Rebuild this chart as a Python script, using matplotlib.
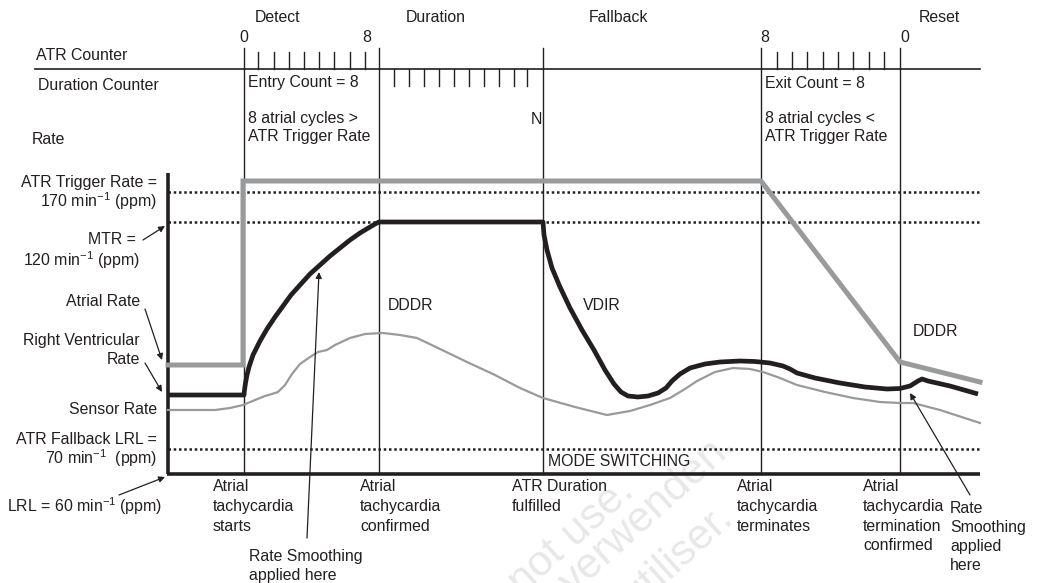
"""
ATR mode switching timing diagram (schematic).
Coordinates are in picture units: x = time across the strip, y = drawn rate
height (down is lower rate), so the figure can be laid out 1:1.
"""
import matplotlib
matplotlib.use("Agg")
import matplotlib.pyplot as plt

plt.rcParams["font.family"] = ["Liberation Sans", "DejaVu Sans"]
plt.rcParams["mathtext.fontset"] = "custom"
plt.rcParams["mathtext.rm"] = "Liberation Sans"
plt.rcParams["mathtext.it"] = "Liberation Sans"

# --- data ---------------------------------------------------------------------
phase_names = ["Detect", "Duration", "Fallback", "Reset"]
phase_name_x = [278, 436, 619, 939]
phase_edges = [244, 379, 543, 761, 900]
counter_marks = ["0", "8", "8", "0"]
counter_mark_x = [244, 367, 765, 905]

entry_ticks = [258, 274, 289, 304, 319, 334, 350, 365]
duration_ticks = [394, 409, 424, 439, 454, 469, 484, 499, 514, 527]
exit_ticks = [777, 792, 807, 823, 838, 853, 869, 884]

trigger_level = 192
mtr_level = 222
fallback_level = 449
baseline_level = 474

atrial_x = [168, 243, 243, 761, 900, 980]
atrial_y = [365, 365, 181, 181, 362, 382]

rv_x = [168, 244, 244.5, 245.5, 247, 249, 251, 253, 260, 267, 275, 283, 291,
        300, 310, 320, 330, 340, 350, 360, 370, 375, 379, 543, 544, 547, 552,
        560, 570, 582, 594, 605, 614, 621, 628, 638, 648, 658, 666, 672, 680,
        690, 705, 720, 740, 755, 770, 783, 790, 797, 815, 840, 865, 887, 900,
        910, 918, 922, 928, 950, 978]
rv_y = [395, 395, 390, 383, 375, 367, 361, 355, 341, 329, 317, 306, 295,
        285, 274, 265, 256, 248, 240, 233, 227, 224, 222, 222, 235, 250, 268,
        287, 308, 330, 350, 370, 384, 392, 396, 397, 396, 393, 388, 381, 374,
        368, 364, 362, 361, 361.5, 363, 366, 369, 373, 378, 383, 387, 389,
        388.5, 386, 381, 379, 381, 386, 394]

sensor_x = [168, 215, 230, 243, 255, 265, 272, 278, 285, 292, 300, 310, 318,
            327, 335, 350, 365, 383, 400, 417, 440, 467, 495, 520, 543, 575,
            607, 630, 650, 670, 685, 697, 715, 733, 750, 763, 780, 797, 825,
            853, 880, 900, 913, 940, 980]
sensor_y = [410, 410, 408, 405, 400, 396, 394, 392, 385, 374, 364, 357, 352,
            350, 345, 338, 334, 333, 335, 338, 349, 362, 375, 388, 398, 407,
            415, 411, 405, 398, 389, 381, 372, 368, 369, 372, 378, 385, 392,
            398, 402, 403, 403, 410, 423]

event_labels = ["Atrial\ntachycardia\nstarts",
                "Atrial\ntachycardia\nconfirmed",
                "ATR Duration\nfulfilled",
                "Atrial\ntachycardia\nterminates",
                "Atrial\ntachycardia\ntermination\nconfirmed"]
event_label_x = [213, 360, 512, 737, 863]

GRAY = "#999a9c"
INK = "#231f20"
FS = 11.4

fig = plt.figure(figsize=(10.37, 5.83), dpi=100)
ax = fig.add_axes([0, 0, 1, 1])
ax.set_xlim(0, 1037)
ax.set_ylim(583, 0)
ax.axis("off")

# watermark
for txt, (wx, wy) in zip(["not use.", "verwenden.", "utiliser."],
                         [(636, 494), (738, 447), (735, 520)]):
    ax.text(wx, wy, txt, fontsize=31, color="#e8e8e8", rotation=42,
            rotation_mode="anchor", ha="right", va="baseline", zorder=0)

# --- counter strip ------------------------------------------------------------
ax.plot([35, 980], [69, 69], color=INK, lw=1.2)
for x in phase_edges:
    ax.plot([x, x], [48, baseline_level], color=INK, lw=1.0)
for x in entry_ticks + exit_ticks:
    ax.plot([x, x], [52, 69], color=INK, lw=1.0)
for x in duration_ticks:
    ax.plot([x, x], [69, 86], color=INK, lw=1.0)

for name, x in zip(phase_names, phase_name_x):
    ax.text(x, 17, name, ha="center", va="center", fontsize=FS, color=INK)
for m, x in zip(counter_marks, counter_mark_x):
    ax.text(x, 37, m, ha="center", va="center", fontsize=FS, color=INK)

ax.text(36, 56, "ATR Counter", va="center", fontsize=FS, color=INK)
ax.text(38, 85, "Duration Counter", va="center", fontsize=FS, color=INK)
ax.text(32, 139, "Rate", va="center", fontsize=FS, color=INK)

ax.text(248, 83, "Entry Count = 8", va="center", fontsize=FS, color=INK)
ax.text(248, 118, "8 atrial cycles >", va="center", fontsize=FS, color=INK)
ax.text(248, 137, "ATR Trigger Rate", va="center", fontsize=FS, color=INK)
ax.text(531, 120, "N", va="center", fontsize=FS, color=INK)
ax.text(765, 83, "Exit Count = 8", va="center", fontsize=FS, color=INK)
ax.text(765, 118, "8 atrial cycles <", va="center", fontsize=FS, color=INK)
ax.text(765, 137, "ATR Trigger Rate", va="center", fontsize=FS, color=INK)

# --- rate panel ---------------------------------------------------------------
for lvl in [trigger_level, mtr_level, fallback_level]:
    ax.plot([168, 980], [lvl, lvl], color=INK, lw=1.8, ls=(0, (1, 1.1)))
ax.plot([168, 168], [173, baseline_level], color=INK, lw=2.6,
        solid_capstyle="butt")
ax.plot([167, 980], [baseline_level, baseline_level], color=INK, lw=2.6,
        solid_capstyle="butt")

ax.plot(sensor_x, sensor_y, color=GRAY, lw=1.6, solid_joinstyle="round")
ax.plot(atrial_x, atrial_y, color=GRAY, lw=3.6, solid_joinstyle="miter")
ax.plot(rv_x, rv_y, color=INK, lw=3.4, solid_joinstyle="round",
        solid_capstyle="butt")

ax.text(388, 306, "DDDR", va="center", fontsize=FS, color=INK)
ax.text(583, 306, "VDIR", va="center", fontsize=FS, color=INK)
ax.text(913, 331, "DDDR", va="center", fontsize=FS, color=INK)
ax.text(548, 461, "MODE SWITCHING", va="center", fontsize=FS, color=INK)

# left-hand labels
ax.text(157, 182, "ATR Trigger Rate =", ha="right", va="center",
        fontsize=FS, color=INK)
ax.text(157, 201, "170 min$^{-1}$ (ppm)", ha="right", va="center",
        fontsize=FS, color=INK)
ax.text(136, 240, "MTR =", ha="right", va="center", fontsize=FS, color=INK)
ax.text(140, 260, "120 min$^{-1}$ (ppm)", ha="right", va="center",
        fontsize=FS, color=INK)
ax.text(140, 302, "Atrial Rate", ha="right", va="center", fontsize=FS,
        color=INK)
ax.text(140, 341, "Right Ventricular", ha="right", va="center", fontsize=FS,
        color=INK)
ax.text(140, 360, "Rate", ha="right", va="center", fontsize=FS, color=INK)
ax.text(157, 410, "Sensor Rate", ha="right", va="center", fontsize=FS,
        color=INK)
ax.text(157, 439, "ATR Fallback LRL =", ha="right", va="center", fontsize=FS,
        color=INK)
ax.text(157, 458, "70 min$^{-1}$  (ppm)", ha="right", va="center",
        fontsize=FS, color=INK)
ax.text(7, 506, "LRL = 60 min$^{-1}$ (ppm)", va="center", fontsize=FS,
        color=INK)

arrow = dict(arrowstyle="-|>", color=INK, lw=0.9, mutation_scale=9,
             shrinkA=0, shrinkB=0)
ax.annotate("", xy=(165, 226), xytext=(143, 240), arrowprops=arrow)
ax.annotate("", xy=(162, 360), xytext=(145, 309), arrowprops=arrow)
ax.annotate("", xy=(162, 392), xytext=(145, 363), arrowprops=arrow)
ax.annotate("", xy=(165, 477), xytext=(119, 495), arrowprops=arrow)
ax.annotate("", xy=(319, 272), xytext=(307, 538), arrowprops=arrow)
ax.annotate("", xy=(910, 393), xytext=(970, 495), arrowprops=arrow)

# event labels under the strip
for lab, x in zip(event_labels, event_label_x):
    ax.text(x, 479, lab, ha="left", va="top", fontsize=FS, color=INK,
            linespacing=1.4)
ax.text(249, 549, "Rate Smoothing\napplied here", ha="left", va="top",
        fontsize=FS, color=INK, linespacing=1.33)
ax.text(950, 501, "Rate\nSmoothing\napplied\nhere", ha="left", va="top",
        fontsize=FS, color=INK, linespacing=1.33)

fig.savefig("out.png", dpi=100)
